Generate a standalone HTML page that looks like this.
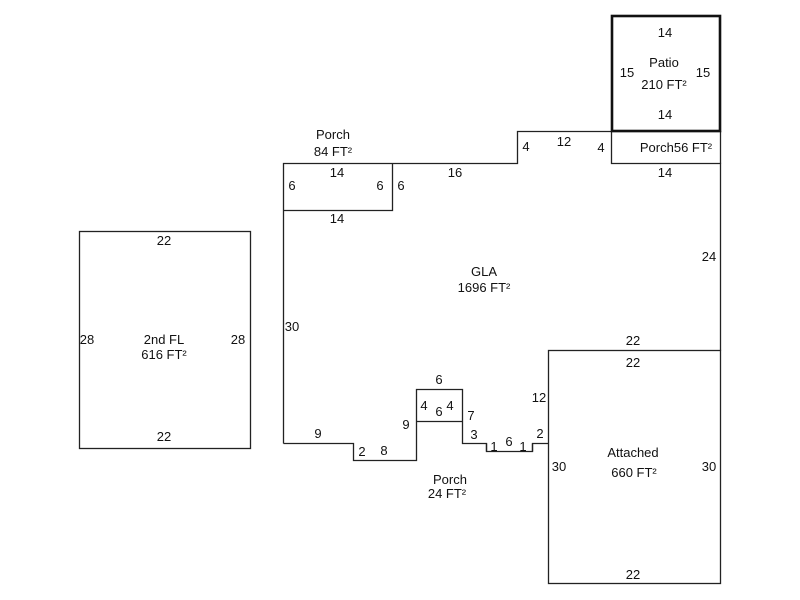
<!DOCTYPE html>
<html><head><style>body{margin:0;background:#fff}svg{display:block}text{font-family:"Liberation Sans",Arial,sans-serif;font-size:13px;fill:#111;text-anchor:middle}</style></head>
<body>
<svg width="800" height="600" viewBox="0 0 800 600">
<g fill="none" stroke="#222" stroke-width="1.3">
<rect x="79.5" y="231.5" width="171" height="217"/>
<path d="M283.5 443.5V163.5H517.5V131.5H611.5V163.5H720.5V350.5"/>
<path d="M283.5 443.5H353.5V460.5H416.5V389.5H462.5V443.5H486.5V451.5H532.5V443.5H548.5"/>
<path d="M416.5 421.5H462.5"/>
<path d="M283.5 210.5H392.5V163.5"/>
<rect x="548.5" y="350.5" width="172" height="233"/>
<path d="M611.5 131.5H720.5V163.5"/>
<path d="M486.5 443.5V451.5M532.5 443.5V451.5"/>
</g>
<rect x="612" y="16" width="108" height="115" fill="none" stroke="#111" stroke-width="2.6"/>
<text x="665" y="37">14</text><text x="664" y="67">Patio</text><text x="664" y="89">210 FT²</text>
<text x="627" y="77">15</text><text x="703" y="77">15</text><text x="665" y="119">14</text>
<text x="564" y="146">12</text><text x="526" y="151">4</text><text x="601" y="152">4</text>
<text x="676" y="152">Porch56 FT²</text><text x="665" y="177">14</text>
<text x="333" y="139">Porch</text><text x="333" y="156">84 FT²</text>
<text x="337" y="177">14</text><text x="292" y="190">6</text><text x="380" y="190">6</text><text x="401" y="190">6</text>
<text x="455" y="177">16</text><text x="337" y="223">14</text>
<text x="709" y="261">24</text>
<text x="484" y="276">GLA</text><text x="484" y="292">1696 FT²</text>
<text x="292" y="331">30</text>
<text x="164" y="245">22</text><text x="87" y="344">28</text><text x="238" y="344">28</text>
<text x="164" y="344">2nd FL</text><text x="164" y="359">616 FT²</text><text x="164" y="441">22</text>
<text x="633" y="345">22</text><text x="633" y="367">22</text>
<text x="439" y="384">6</text><text x="424" y="410">4</text><text x="439" y="416">6</text><text x="450" y="410">4</text>
<text x="406" y="429">9</text><text x="471" y="420">7</text><text x="474" y="439">3</text>
<text x="539" y="402">12</text><text x="318" y="438">9</text><text x="362" y="456">2</text><text x="384" y="455">8</text>
<text x="494" y="451">1</text><text x="509" y="446">6</text><text x="523" y="451">1</text><text x="540" y="438">2</text>
<text x="450" y="484">Porch</text><text x="447" y="498">24 FT²</text>
<text x="633" y="457">Attached</text><text x="634" y="477">660 FT²</text>
<text x="559" y="471">30</text><text x="709" y="471">30</text><text x="633" y="579">22</text>
</svg>
</body></html>
